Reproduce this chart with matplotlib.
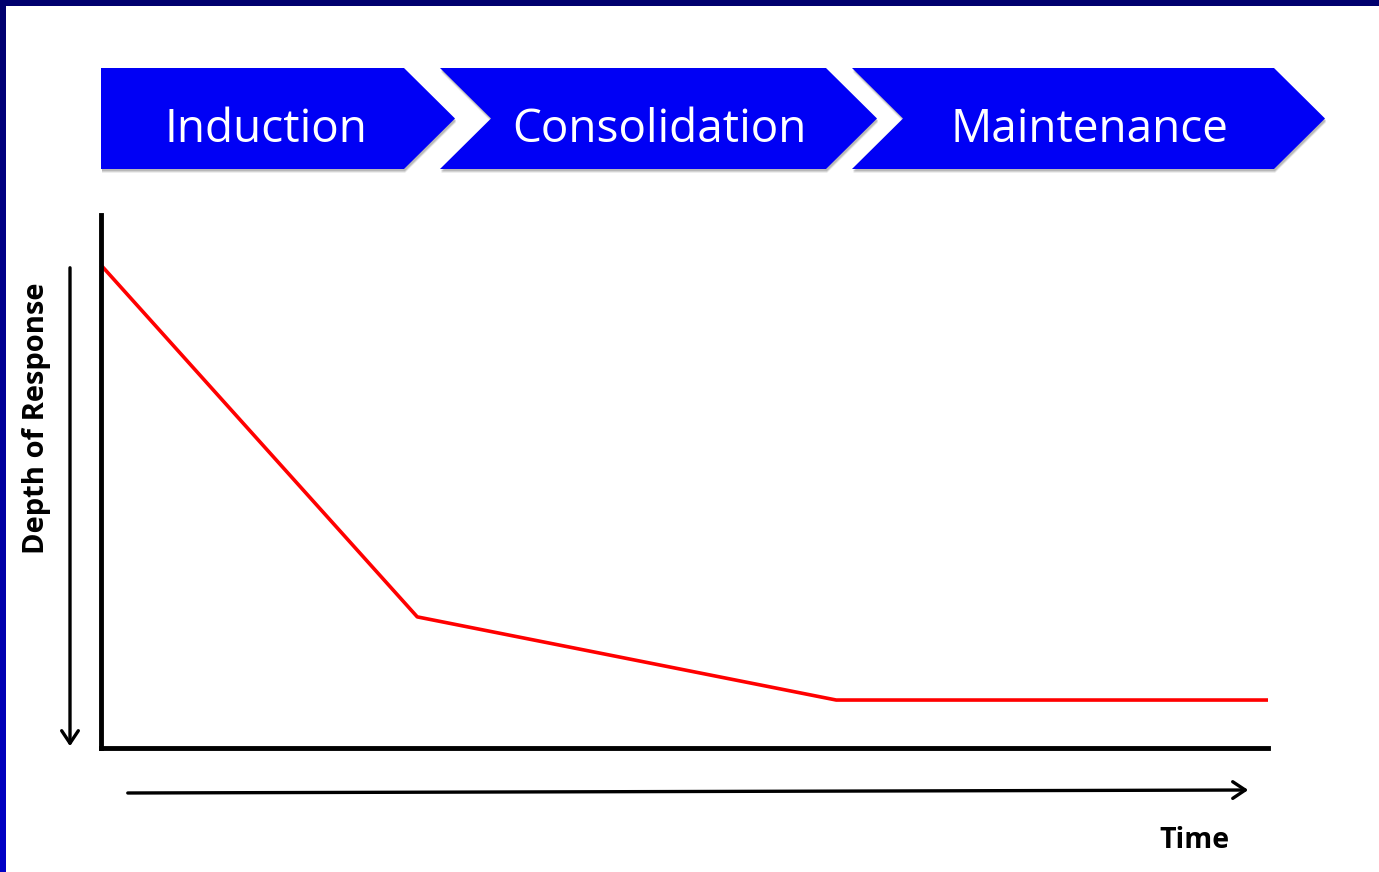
import matplotlib.pyplot as plt
import numpy as np
from matplotlib.patches import Polygon, FancyArrowPatch

# phases shown as chevrons across the top
phases = ["Induction", "Consolidation", "Maintenance"]

# red response curve: time (% of span) vs depth of response (% of axis height)
time_pct = [0, 27.1, 63.0, 100]
depth_pct = [90.6, 24.6, 9.0, 9.0]

W, H = 1379, 872
fig = plt.figure(figsize=(W / 100, H / 100), dpi=100)

# overlay axes in pixel coords for frame, chevrons and arrows
bg = fig.add_axes([0, 0, 1, 1])
bg.axis("off")

# dark blue frame (top and left), left one fades lighter downwards
grad = np.linspace(0, 1, 200)
cols = np.zeros((200, 1, 3))
cols[:, 0, 2] = 0.43 + 0.35 * grad
bg.imshow(cols, extent=(0, 6, H, 0), aspect="auto", zorder=1)
bg.add_patch(plt.Rectangle((0, 0), W, 6, color="#00006e", lw=0, zorder=2))
bg.set_xlim(0, W)
bg.set_ylim(H, 0)

# chevrons
top, bot, mid = 68, 169, 118.5
notch = 51
starts = [101, 440, 852]
ends = [455, 877, 1325]
label_x = [266, 659, 1089]
for i, name in enumerate(phases):
    x0, x1 = starts[i], ends[i]
    pts = [(x0, top), (x1 - notch, top), (x1, mid), (x1 - notch, bot), (x0, bot)]
    if i > 0:
        pts.append((x0 + notch, mid))
    for k, a in [(4, 0.15), (3, 0.25), (2, 0.35)]:
        shadow = [(x + 1, y + k) for x, y in pts]
        bg.add_patch(Polygon(shadow, closed=True, fc="#888888", ec="none", alpha=a, zorder=2))
    bg.add_patch(Polygon(pts, closed=True, fc="#0000f5", ec="none", zorder=3))
    bg.text(label_x[i], mid + 11, name, color="white", fontsize=33, family="Open Sans",
            ha="center", va="center", zorder=4)

# depth arrow (pointing down) and time arrow
bg.add_patch(FancyArrowPatch((70, 265), (70, 749), arrowstyle="->,head_length=9,head_width=6",
                             lw=2.4, color="black", zorder=3))
bg.add_patch(FancyArrowPatch((125, 793), (1251, 790), arrowstyle="->,head_length=9,head_width=6",
                             lw=2.4, color="black", zorder=3))
bg.text(37, 418, "Depth of Response", rotation=90, fontsize=21, fontweight="bold",
        family="Open Sans", ha="center", va="center")
bg.text(1194, 840, "Time", fontsize=20.5, fontweight="bold", family="Open Sans",
        ha="center", va="center")

# data axes
ax = fig.add_axes([101 / W, 1 - 748 / H, (1268 - 101) / W, (748 - 215) / H])
ax.patch.set_alpha(0)
ax.plot(time_pct, depth_pct, color="#ff0000", lw=2.6, solid_capstyle="butt", clip_on=False)
ax.set_xlim(0, 100)
ax.set_ylim(0, 100)
for s in ["top", "right"]:
    ax.spines[s].set_visible(False)
for s in ["left", "bottom"]:
    ax.spines[s].set_linewidth(3.5)
    ax.spines[s].set_color("black")
ax.set_xticks([])
ax.set_yticks([])

fig.savefig("out.png", dpi=100)
